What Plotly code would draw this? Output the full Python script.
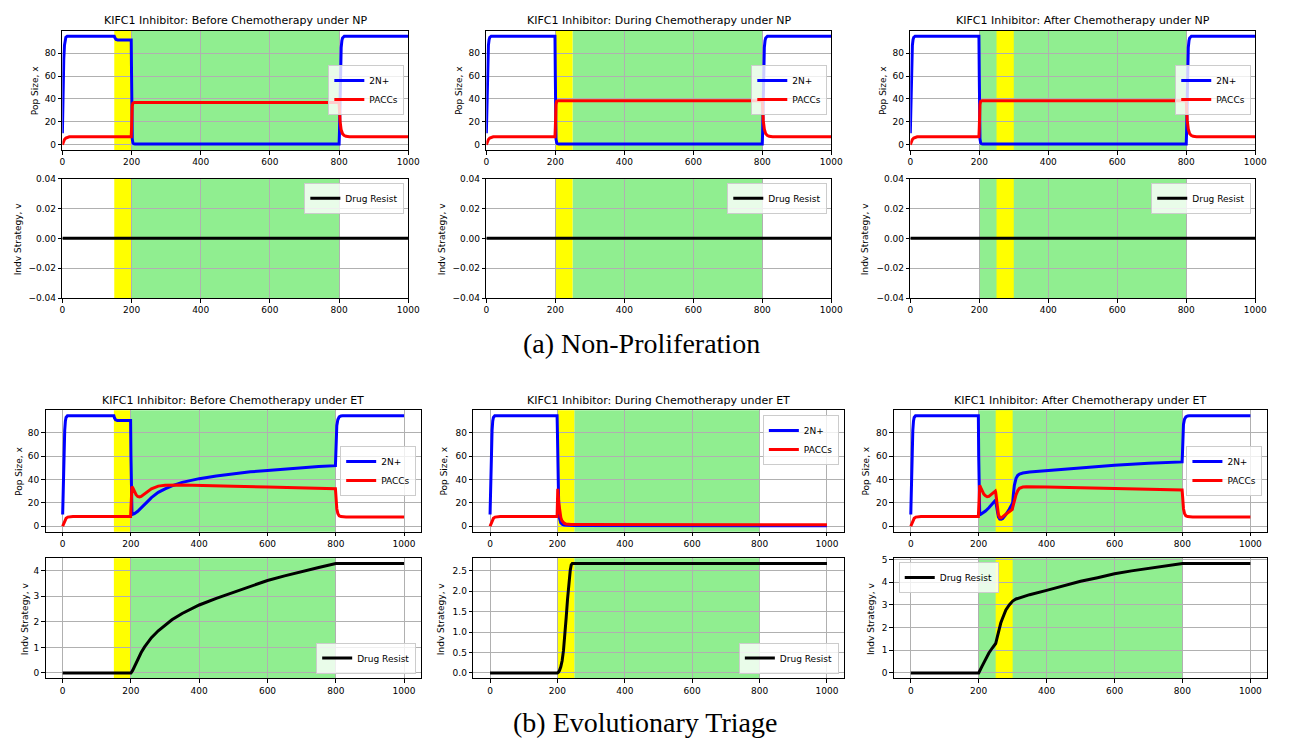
import plotly.graph_objects as go

# page body has an 8px margin: figure is sized to fit inside the window
OFF = 8
W, H = 1292 - 2 * OFF, 746 - 2 * OFF

# ---------------- DATA ----------------
# x axis ticks / labels
x_ticks = [0, 200, 400, 600, 800, 1000]
pop_ticks = [0, 20, 40, 60, 80]

# treatment windows (yellow = KIFC1 inhibitor, green = chemotherapy)
before_yellow = [150, 200]
before_green = [200, 800]
during_yellow = [200, 250]
during_green = [250, 800]
after_yellow = [250, 300]
after_green = [200, 800]

# ---- Non-Proliferation (NP) ----
np_t_2n_before = [0, 2, 4, 6, 8, 10, 14, 20, 150, 152, 155, 160, 199, 200, 201, 202, 204, 206, 210,
                  800, 801, 802, 804, 806, 808, 810, 815, 820, 1000]
np_2n_before = [10, 50, 75, 87, 92, 94, 95, 95, 95, 93.5, 92.2, 91.7, 91.7, 60, 20, 5, 1.5, 0.8, 0.5,
                0.5, 10, 35, 70, 85, 91, 93.5, 95, 95, 95]
np_t_pacc_before = [0, 3, 6, 10, 15, 20, 30, 199, 200, 201, 202, 204, 208,
                    800, 801, 803, 806, 810, 815, 820, 830, 1000]
np_pacc_before = [0, 2.5, 4.5, 5.8, 6.6, 6.9, 7, 7, 15, 28, 34, 36.5, 37,
                  37, 30, 20, 13, 9.5, 8, 7.3, 7, 7]

np_t_2n_during = [0, 2, 4, 6, 8, 10, 14, 20, 199, 200, 201, 202, 204, 206, 210,
                  800, 801, 802, 804, 806, 808, 810, 815, 820, 1000]
np_2n_during = [10, 50, 75, 87, 92, 94, 95, 95, 95, 60, 20, 5, 1.5, 0.8, 0.5,
                0.5, 10, 35, 70, 85, 91, 93.5, 95, 95, 95]
np_t_pacc_during = [0, 3, 6, 10, 15, 20, 30, 199, 200, 201, 202, 204, 208,
                    800, 801, 803, 806, 810, 815, 820, 830, 1000]
np_pacc_during = [0, 2.5, 4.5, 5.8, 6.6, 6.9, 7, 7, 15, 29, 35, 38, 38.5,
                  38.5, 31, 21, 13.5, 9.5, 8, 7.3, 7, 7]

np_t_2n_after = [0, 2, 4, 6, 8, 10, 14, 20, 199, 200, 201, 202, 204, 206, 210,
                 800, 801, 802, 804, 806, 808, 810, 815, 820, 1000]
np_2n_after = [10, 50, 75, 87, 92, 94, 95, 95, 95, 60, 20, 5, 1.5, 0.8, 0.5,
               0.5, 10, 35, 70, 85, 91, 93.5, 95, 95, 95]
np_t_pacc_after = [0, 3, 6, 10, 15, 20, 30, 199, 200, 201, 202, 204, 208,
                   800, 801, 803, 806, 810, 815, 820, 830, 1000]
np_pacc_after = [0, 2.5, 4.5, 5.8, 6.6, 6.9, 7, 7, 15, 29, 35, 38, 38.5,
                 38.5, 31, 21, 13.5, 9.5, 8, 7.3, 7, 7]

np_t_v = [0, 1000]
np_v_before = [0, 0]
np_v_during = [0, 0]
np_v_after = [0, 0]

# ---- Evolutionary Triage (ET) ----
et_t_2n_before = [0, 2, 4, 6, 8, 10, 14, 20, 150, 152, 155, 160, 199, 200, 201, 203, 205, 210, 220, 230,
                  240, 250, 260, 280, 300, 320, 350, 400, 450, 500, 550, 600, 650, 700, 750, 799,
                  800, 801, 803, 806, 810, 815, 820, 1000]
et_2n_before = [10, 40, 65, 82, 90, 93, 94.5, 94.5, 94.5, 92.5, 91, 90.5, 90.5, 60, 30, 12, 10.2, 10.8, 12.8, 15.5,
                18.5, 21.5, 24.5, 29, 32, 34.5, 37.5, 40.7, 43, 45, 46.5, 47.7, 49, 50, 51, 51.8,
                60, 75, 86, 91, 93.5, 94.3, 94.5, 94.5]
et_t_pacc_before = [0, 3, 6, 10, 15, 20, 30, 199, 200, 201, 203, 206, 210, 215, 220, 225, 230, 240, 250,
                    260, 280, 300, 350, 400, 500, 600, 700, 799, 800, 801, 803, 806, 810, 815, 820, 830, 1000]
et_pacc_before = [0, 2.5, 5, 6.8, 7.8, 8.2, 8.4, 8.4, 20, 32, 34, 32.5, 29.5, 27, 25.5, 25, 25.5, 27.5, 30,
                  32, 34.3, 35, 35.2, 35, 34.3, 33.5, 32.8, 32, 28, 22, 15, 11, 9, 8.3, 8, 8, 8]
et_t_v_before = [0, 200, 205, 210, 215, 220, 230, 240, 250, 260, 280, 300, 320, 350, 400, 450, 500, 550,
                 600, 650, 700, 750, 800, 1000]
et_v_before = [0, 0, 0.1, 0.25, 0.4, 0.55, 0.8, 1.02, 1.2, 1.38, 1.65, 1.88, 2.08, 2.33, 2.66, 2.92, 3.16, 3.4,
               3.62, 3.8, 3.97, 4.13, 4.28, 4.28]

et_t_2n_during = [0, 2, 4, 6, 8, 10, 14, 20, 199, 200, 201, 202, 204, 206, 208, 210, 215, 220, 230, 250, 1000]
et_2n_during = [10, 40, 65, 82, 90, 93, 94.5, 94.5, 94.5, 80, 55, 35, 15, 7, 4, 2.8, 1.6, 1.1, 0.8, 0.6, 0.5]
et_t_pacc_during = [0, 3, 6, 10, 15, 20, 30, 199, 200, 201, 202, 204, 206, 208, 210, 213, 216, 220, 225, 230,
                    240, 260, 1000]
et_pacc_during = [0, 2.5, 5, 6.8, 7.8, 8.2, 8.4, 8.4, 20, 32, 28, 20, 14, 10, 7.5, 5, 3.6, 2.6, 2, 1.7,
                  1.5, 1.4, 1.3]
et_t_v_during = [0, 200, 203, 206, 210, 214, 218, 222, 226, 230, 234, 238, 241, 244, 1000]
et_v_during = [0, 0, 0.02, 0.06, 0.15, 0.3, 0.55, 0.9, 1.35, 1.8, 2.2, 2.5, 2.64, 2.67, 2.67]

et_t_2n_after = [0, 2, 4, 6, 8, 10, 14, 20, 199, 200, 201, 202, 203, 205, 210, 220, 230, 240, 250, 252, 255,
                 258, 262, 266, 270, 280, 290, 300, 302, 305, 310, 315, 320, 330, 350, 400, 500, 600, 700,
                 799, 800, 801, 803, 806, 810, 815, 820, 1000]
et_2n_after = [10, 40, 65, 82, 90, 93, 94.5, 94.5, 94.5, 60, 25, 12, 10.3, 10, 10.8, 13, 15.8, 19, 22.5, 18, 12,
               8, 6.2, 6, 6.5, 10, 14.5, 20, 27, 35, 41, 43.5, 44.5, 45.5, 46.3, 47.5, 50, 52.2, 53.8,
               55, 62, 77, 87, 91.5, 93.5, 94.3, 94.5, 94.5]
et_t_pacc_after = [0, 3, 6, 10, 15, 20, 30, 199, 200, 201, 203, 206, 210, 215, 220, 225, 230, 240, 249, 250,
                   252, 255, 258, 262, 266, 270, 280, 290, 299, 300, 305, 310, 315, 320, 330, 340, 400, 500,
                   600, 700, 799, 800, 801, 803, 806, 810, 815, 820, 830, 1000]
et_pacc_after = [0, 2.5, 5, 6.8, 7.8, 8.2, 8.4, 8.4, 20, 34, 35, 33, 30, 27.5, 26, 25.3, 25.5, 27.5, 30, 29,
                 24, 16, 10, 7.5, 7.2, 8, 10.5, 13, 14.5, 16, 22, 27, 30.5, 32.5, 33.5, 33.8, 33.5, 33,
                 32.3, 31.7, 31, 27, 21, 15, 11, 9, 8.3, 8, 8, 8]
et_t_v_after = [0, 200, 210, 220, 230, 240, 250, 255, 260, 265, 270, 275, 280, 290, 300, 310, 330, 350, 400,
                450, 500, 550, 600, 650, 700, 750, 800, 1000]
et_v_after = [0, 0, 0.3, 0.6, 0.88, 1.1, 1.3, 1.6, 1.95, 2.2, 2.4, 2.6, 2.78, 3.0, 3.17, 3.26, 3.36, 3.45, 3.64,
              3.85, 4.04, 4.2, 4.37, 4.5, 4.6, 4.72, 4.82, 4.82]

titles = [
    "KIFC1 Inhibitor: Before Chemotherapy under NP",
    "KIFC1 Inhibitor: During Chemotherapy under NP",
    "KIFC1 Inhibitor: After Chemotherapy under NP",
    "KIFC1 Inhibitor: Before Chemotherapy under ET",
    "KIFC1 Inhibitor: During Chemotherapy under ET",
    "KIFC1 Inhibitor: After Chemotherapy under ET",
]
captions = ["(a) Non-Proliferation", "(b) Evolutionary Triage"]


# ---------------- LAYOUT HELPERS ----------------
def fx(p):
    return (p - OFF) / W


def fy(p):
    return 1 - (p - OFF) / H


FONT = "DejaVu Sans"
fig = go.Figure()
layout = dict(
    width=W, height=H, margin=dict(l=0, r=0, t=0, b=0),
    paper_bgcolor="white", plot_bgcolor="white", showlegend=True,
    font=dict(family=FONT, size=9, color="black"),
)
shapes = []
annotations = []

np_cols = [(60, 410), (489, 838), (918, 1267)]
et_cols = [(43, 423), (475.7, 850.7), (901.3, 1279.3)]
np_top, np_bot = (26, 147), (176, 297)
et_top, et_bot = (410.7, 534), (560.7, 682.7)

spans = [(before_green, before_yellow), (during_green, during_yellow), (after_green, after_yellow)]

panel_specs = []
np_pop = [(np_t_2n_before, np_2n_before, np_t_pacc_before, np_pacc_before),
          (np_t_2n_during, np_2n_during, np_t_pacc_during, np_pacc_during),
          (np_t_2n_after, np_2n_after, np_t_pacc_after, np_pacc_after)]
np_str = [np_v_before, np_v_during, np_v_after]
et_pop = [(et_t_2n_before, et_2n_before, et_t_pacc_before, et_pacc_before),
          (et_t_2n_during, et_2n_during, et_t_pacc_during, et_pacc_during),
          (et_t_2n_after, et_2n_after, et_t_pacc_after, et_pacc_after)]
et_str = [(et_t_v_before, et_v_before), (et_t_v_during, et_v_during), (et_t_v_after, et_v_after)]

for c in range(3):
    x0, x1 = np_cols[c]
    panel_specs.append(dict(
        xd=(x0, x1), yd=np_top, xr=[0, 1000], yr=[-4.75, 99.75], yt=pop_ticks, yf=None,
        span=spans[c],
        traces=[(np_pop[c][0], np_pop[c][1], "2N+", "blue"), (np_pop[c][2], np_pop[c][3], "PACCs", "red")],
        leg=dict(x=fx(x1 - 4), y=fy(86), xanchor="right", yanchor="middle"),
        ytitle="Pop Size, x", ytx=x0 - 27, title=titles[c]))
    panel_specs.append(dict(
        xd=(x0, x1), yd=np_bot, xr=[0, 1000], yr=[-0.04, 0.04], yt=[-0.04, -0.02, 0, 0.02, 0.04], yf=".2f",
        span=spans[c],
        traces=[(np_t_v, np_str[c], "Drug Resist", "black")],
        leg=dict(x=fx(x1 - 4), y=fy(180), xanchor="right", yanchor="top"),
        ytitle="Indv Strategy, v", ytx=x0 - 45, title=None))

et_pop_legs = [("right", "middle"), ("right", "top"), ("right", "middle")]
et_str_legs = [("right", "bottom"), ("right", "bottom"), ("left", "top")]
et_str_ranges = [[-0.214, 4.494], [-0.1335, 2.8035], [-0.241, 5.061]]
et_str_ticks = [[0, 1, 2, 3, 4], [0, 0.5, 1, 1.5, 2, 2.5], [0, 1, 2, 3, 4, 5]]
et_str_fmt = [None, ".1f", None]
et_pop_tx = [16, 445.7, 872.7]
et_str_tx = [22, 443, 879]

for c in range(3):
    x0, x1 = et_cols[c]
    xa, ya = et_pop_legs[c]
    if ya == "middle":
        leg = dict(x=fx(x1 - 5), y=fy((et_top[0] + et_top[1]) / 2), xanchor="right", yanchor="middle")
    else:
        leg = dict(x=fx(x1 - 5), y=fy(et_top[0] + 5), xanchor="right", yanchor="top")
    panel_specs.append(dict(
        xd=(x0, x1), yd=et_top, xr=[-50, 1050], yr=[-4.73, 99.23], yt=pop_ticks, yf=None,
        span=spans[c],
        traces=[(et_pop[c][0], et_pop[c][1], "2N+", "blue"), (et_pop[c][2], et_pop[c][3], "PACCs", "red")],
        leg=leg, ytitle="Pop Size, x", ytx=et_pop_tx[c], title=titles[3 + c]))
    xa, ya = et_str_legs[c]
    if xa == "left":
        leg = dict(x=fx(x0 + 5), y=fy(et_bot[0] + 4), xanchor="left", yanchor="top")
    else:
        leg = dict(x=fx(x1 - 5), y=fy(et_bot[1] - 5), xanchor="right", yanchor="bottom")
    panel_specs.append(dict(
        xd=(x0, x1), yd=et_bot, xr=[-50, 1050], yr=et_str_ranges[c], yt=et_str_ticks[c], yf=et_str_fmt[c],
        span=spans[c],
        traces=[(et_str[c][0], et_str[c][1], "Drug Resist", "black")],
        leg=leg, ytitle="Indv Strategy, v", ytx=et_str_tx[c], title=None))

for i, p in enumerate(panel_specs, start=1):
    sfx = "" if i == 1 else str(i)
    xname, yname = "x" + sfx, "y" + sfx
    legname = "legend" + sfx
    axis_common = dict(showline=True, mirror=True, linecolor="black", linewidth=1,
                       ticks="outside", ticklen=3.5, tickwidth=0.8, tickcolor="black",
                       showgrid=True, gridcolor="#b0b0b0", gridwidth=0.8, zeroline=False,
                       tickfont=dict(family=FONT, size=9, color="black"), fixedrange=True)
    layout["xaxis" + sfx] = dict(axis_common, domain=[fx(p["xd"][0]), fx(p["xd"][1])], range=p["xr"],
                                 tickvals=x_ticks, anchor=yname)
    ya = dict(axis_common, domain=[fy(p["yd"][1]), fy(p["yd"][0])], range=p["yr"],
              tickvals=p["yt"], anchor=xname)
    if p["yf"]:
        ya["tickformat"] = p["yf"]
    layout["yaxis" + sfx] = ya
    green, yellow = p["span"]
    for (a, b), col in ((green, "#90EE90"), (yellow, "#FFFF00")):
        shapes.append(dict(type="rect", xref=xname, yref=yname + " domain", x0=a, x1=b, y0=0, y1=1,
                           fillcolor=col, line=dict(width=0), layer="below"))
    for (tx, vy, name, col) in p["traces"]:
        fig.add_trace(go.Scatter(x=tx, y=vy, mode="lines", name=name, line=dict(color=col, width=3),
                                 xaxis=xname, yaxis=yname, legend=legname, hoverinfo="skip"))
    layout[legname] = dict(p["leg"], xref="paper", yref="paper", bgcolor="rgba(255,255,255,0.8)",
                           bordercolor="#cccccc", borderwidth=1, itemwidth=30,
                           font=dict(family=FONT, size=9, color="black"), tracegroupgap=0)
    annotations.append(dict(text=p["ytitle"], x=fx(p["ytx"]), y=fy((p["yd"][0] + p["yd"][1]) / 2),
                            xref="paper", yref="paper", showarrow=False, textangle=-90,
                            xanchor="center", yanchor="middle", font=dict(family=FONT, size=9, color="black")))
    if p["title"]:
        annotations.append(dict(text=p["title"], x=fx((p["xd"][0] + p["xd"][1]) / 2), y=fy(p["yd"][0] - 10),
                                xref="paper", yref="paper", showarrow=False, xanchor="center", yanchor="middle",
                                font=dict(family=FONT, size=11, color="black")))

annotations.append(dict(text=captions[0], x=fx(646), y=fy(343), xref="paper", yref="paper", showarrow=False,
                        xanchor="center", yanchor="middle",
                        font=dict(family="Liberation Serif", size=28, color="black")))
annotations.append(dict(text=captions[1], x=fx(650), y=fy(727), xref="paper", yref="paper", showarrow=False,
                        xanchor="center", yanchor="middle",
                        font=dict(family="Liberation Serif", size=28, color="black")))

layout["shapes"] = shapes
layout["annotations"] = annotations
fig.update_layout(**layout)
fig.write_html("out.html")
